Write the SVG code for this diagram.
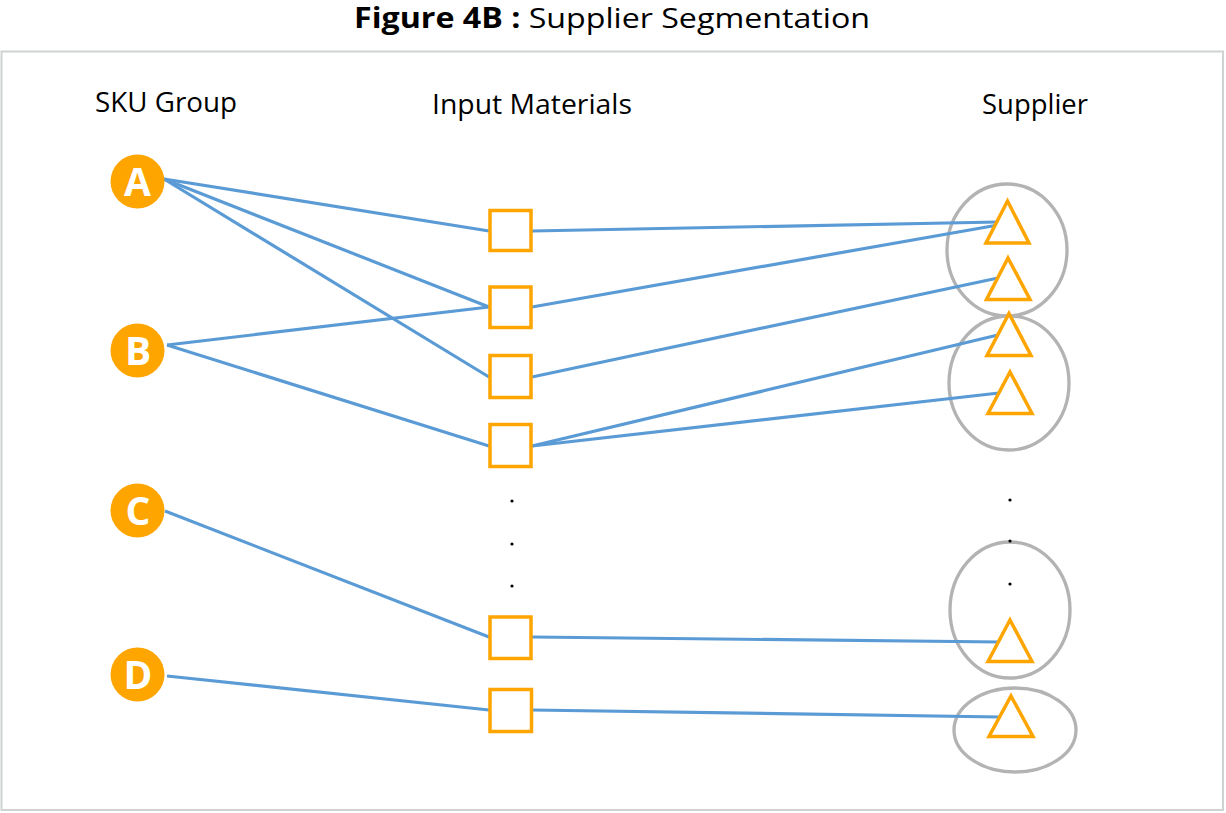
<svg xmlns="http://www.w3.org/2000/svg" width="1226" height="813" viewBox="0 0 1226 813">
<style>
.t{font-family:"Open Sans","Liberation Sans",sans-serif;fill:#000}
.sku circle{fill:#FFA500}
.sku text{font-family:"Open Sans","Liberation Sans",sans-serif;font-weight:bold;font-size:39px;fill:#fff;text-anchor:middle}
.mat{fill:#fff;stroke:#FFA500;stroke-width:3.5}
.sup{fill:#fff;stroke:#FFA500;stroke-width:3.5;stroke-linejoin:miter}
.grp{fill:none;stroke:#B3B3B3;stroke-width:3.3}
#connectors line{stroke:#5B9BD5;stroke-width:3.2;stroke-linecap:butt}
.dot{fill:#000}
</style>
<rect x="0" y="0" width="1226" height="813" fill="#fff"/>
<rect x="1.5" y="51.5" width="1221.5" height="758.5" fill="#fff" stroke="#D0D3D3" stroke-width="2"/>
<text class="t" x="612" y="28" font-size="28" text-anchor="middle" textLength="516" lengthAdjust="spacingAndGlyphs"><tspan font-weight="bold">Figure 4B :</tspan> Supplier Segmentation</text>
<text class="t" x="95" y="112" font-size="28" textLength="142" lengthAdjust="spacingAndGlyphs">SKU Group</text>
<text class="t" x="432" y="114" font-size="28" textLength="200" lengthAdjust="spacingAndGlyphs">Input Materials</text>
<text class="t" x="982" y="114" font-size="28" textLength="106" lengthAdjust="spacingAndGlyphs">Supplier</text>

<g id="groups">
<ellipse id="group1" class="grp" cx="1007" cy="250" rx="60" ry="66"/>
<ellipse id="group2" class="grp" cx="1009" cy="383" rx="60" ry="67"/>
<ellipse id="group3" class="grp" cx="1010" cy="610" rx="60" ry="68"/>
<ellipse id="group4" class="grp" cx="1015" cy="730" rx="61" ry="42"/>
</g>

<g id="connectors">
<line x1="164" y1="179" x2="489" y2="231"/>
<line x1="164" y1="179" x2="489" y2="307"/>
<line x1="164" y1="179" x2="489" y2="377"/>
<line x1="167" y1="345" x2="489" y2="307"/>
<line x1="167" y1="345" x2="489" y2="446"/>
<line x1="165" y1="511" x2="489" y2="637"/>
<line x1="167" y1="676" x2="489" y2="710"/>
<line x1="532" y1="231" x2="998" y2="222"/>
<line x1="532" y1="307" x2="998" y2="225"/>
<line x1="532" y1="377" x2="998" y2="278"/>
<line x1="532" y1="446" x2="998" y2="335"/>
<line x1="532" y1="446" x2="999" y2="393"/>
<line x1="532" y1="637" x2="1000" y2="642"/>
<line x1="532" y1="710" x2="1000" y2="717"/>
</g>

<g id="sku-A" class="sku"><circle cx="137.5" cy="181.5" r="27"/><text x="137.5" y="195.5">A</text></g>
<g id="sku-B" class="sku"><circle cx="137.5" cy="350.5" r="27"/><text x="138" y="365">B</text></g>
<g id="sku-C" class="sku"><circle cx="137.5" cy="510.5" r="27"/><text x="138" y="525">C</text></g>
<g id="sku-D" class="sku"><circle cx="137.5" cy="674.5" r="27"/><text x="138" y="689">D</text></g>

<g id="mat-1"><rect class="mat" x="490" y="210.5" width="41" height="40"/></g>
<g id="mat-2"><rect class="mat" x="490" y="287" width="41" height="40.5"/></g>
<g id="mat-3"><rect class="mat" x="490" y="355.5" width="41" height="42"/></g>
<g id="mat-4"><rect class="mat" x="490" y="424.5" width="41" height="42"/></g>
<g id="mat-5"><rect class="mat" x="490" y="617" width="41" height="41.5"/></g>
<g id="mat-6"><rect class="mat" x="490" y="689.5" width="41.5" height="42"/></g>

<g id="mat-dots">
<circle class="dot" cx="512" cy="501" r="1.6"/>
<circle class="dot" cx="512" cy="544" r="1.6"/>
<circle class="dot" cx="512" cy="586" r="1.6"/>
</g>

<g id="sup-1"><polygon class="sup" points="1007.5,201 1029,243 986,243"/></g>
<g id="sup-2"><polygon class="sup" points="1008,258 1030,299.5 986.5,299.5"/></g>
<g id="sup-3"><polygon class="sup" points="1009,313.5 1031,355.5 987,355.5"/></g>
<g id="sup-4"><polygon class="sup" points="1010,372 1032,413.5 988,413.5"/></g>
<g id="sup-5"><polygon class="sup" points="1010,620 1032,661.5 988,661.5"/></g>
<g id="sup-6"><polygon class="sup" points="1011,696 1033,736.5 989,736.5"/></g>

<g id="sup-dots">
<circle class="dot" cx="1010" cy="500" r="1.6"/>
<circle class="dot" cx="1010" cy="541" r="1.6"/>
<circle class="dot" cx="1010" cy="584" r="1.6"/>
</g>
</svg>
